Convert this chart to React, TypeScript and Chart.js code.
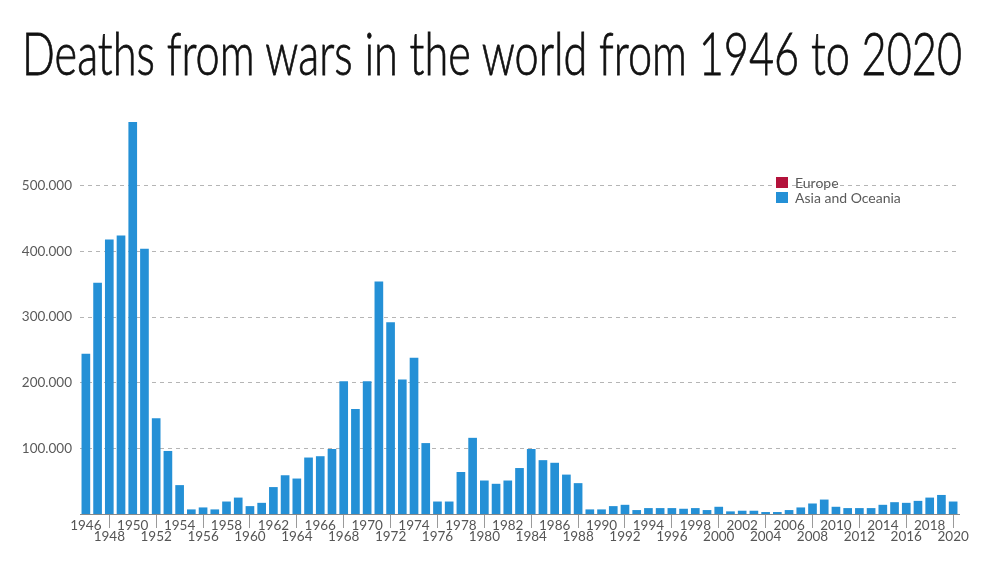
import { useEffect, useRef } from 'react';
import { Chart, registerables } from 'chart.js';

Chart.register(...registerables);

const TITLE = 'Deaths from wars in the world from 1946 to 2020';

const years = [
  1946, 1947, 1948, 1949, 1950, 1951, 1952, 1953, 1954, 1955,
  1956, 1957, 1958, 1959, 1960, 1961, 1962, 1963, 1964, 1965,
  1966, 1967, 1968, 1969, 1970, 1971, 1972, 1973, 1974, 1975,
  1976, 1977, 1978, 1979, 1980, 1981, 1982, 1983, 1984, 1985,
  1986, 1987, 1988, 1989, 1990, 1991, 1992, 1993, 1994, 1995,
  1996, 1997, 1998, 1999, 2000, 2001, 2002, 2003, 2004, 2005,
  2006, 2007, 2008, 2009, 2010, 2011, 2012, 2013, 2014, 2015,
  2016, 2017, 2018, 2019, 2020,
];

// deaths, Asia and Oceania (thousands)
const asiaOceania = [
  244, 352, 418, 424, 597, 404, 146, 96, 44, 7,
  10, 7, 19, 25, 12, 17, 41, 59, 54, 86,
  88, 99, 202, 160, 202, 354, 292, 205, 238, 108,
  19, 19, 64, 116, 51, 46, 51, 70, 99, 82,
  78, 60, 47, 7, 7, 12, 14, 6, 9, 9,
  9, 8, 9, 6, 11, 4, 5, 5, 3, 3,
  6, 10, 16, 22, 11, 9, 9, 9, 14, 18,
  17, 20, 25, 29, 19,
];

const legendItems = [
  { label: 'Europe', color: '#b3123b' },
  { label: 'Asia and Oceania', color: '#2490d6' },
];

const FONT = 'Lato, "Noto Sans", sans-serif';

function formatThousands(v: number) {
  return String(v).replace(/\B(?=(\d{3})+(?!\d))/g, '.');
}

export default function App() {
  const canvasRef = useRef<HTMLCanvasElement>(null);
  const chartRef = useRef<Chart | null>(null);

  useEffect(() => {
    if (!canvasRef.current) return;
    if (chartRef.current) chartRef.current.destroy();

    const ctx = canvasRef.current.getContext('2d')!;

    chartRef.current = new Chart(ctx, {
      type: 'bar',
      data: {
        labels: years.map(String),
        datasets: [
          {
            label: 'Asia and Oceania',
            data: asiaOceania.map(v => v * 1000),
            backgroundColor: legendItems[1].color,
            barPercentage: 0.74,
            categoryPercentage: 1,
          },
        ],
      },
      options: {
        animation: false,
        responsive: false,
        maintainAspectRatio: false,
        layout: { padding: { top: 120, right: 41, left: 0, bottom: 0 } },
        plugins: {
          legend: { display: false },
          tooltip: { enabled: false },
        },
        scales: {
          x: {
            afterFit: (scale: any) => {
              scale.height = 49;
            },
            grid: {
              offset: false,
              drawOnChartArea: false,
              tickLength: 14,
              color: (c: any) => (c.index % 4 === 2 ? '#9a9a9a' : 'rgba(0,0,0,0)'),
            },
            border: { display: true, color: '#8a8a8a', width: 1 },
            ticks: {
              autoSkip: false,
              maxRotation: 0,
              minRotation: 0,
              padding: -7,
              color: '#555',
              font: { family: FONT, size: 13.5, lineHeight: 0.76 },
              callback: (_v: any, i: number) => {
                if (i % 2 !== 0) return '';
                return i % 4 === 0 ? [String(years[i])] : ['', String(years[i])];
              },
            },
          },
          y: {
            min: 0,
            max: 600000,
            afterFit: (scale: any) => {
              scale.width = 80;
            },
            grid: {
              color: '#b5b5b5',
              lineWidth: 1,
              drawTicks: false,
            },
            border: { display: false, dash: [4, 4] },
            ticks: {
              stepSize: 100000,
              padding: 8,
              color: '#5a5a5a',
              font: { family: FONT, size: 13.5 },
              callback: (v: any) =>
                v === 0 || v === 600000 ? null : formatThousands(Number(v)),
            },
          },
        },
      },
    });

    return () => chartRef.current?.destroy();
  }, []);

  return (
    <div
      style={{
        position: 'fixed',
        left: 0,
        top: 0,
        width: 1000,
        height: 563,
        background: '#fff',
        overflow: 'hidden',
      }}
    >
      <svg width={1000} height={100} style={{ position: 'absolute', left: 0, top: 0 }}>
        <text
          x={22}
          y={75}
          textLength={940}
          lengthAdjust="spacingAndGlyphs"
          fontFamily={FONT}
          fontSize={59}
          fontWeight={300}
          fill="#111"
          stroke="#111"
          strokeWidth={0.8}
        >
          {TITLE}
        </text>
      </svg>
      <canvas
        ref={canvasRef}
        width={1000}
        height={563}
        style={{ position: 'absolute', left: 0, top: 0 }}
      />
      <div
        style={{
          position: 'absolute',
          left: 776,
          top: 175,
          fontFamily: FONT,
          fontSize: 14,
          color: '#5a5a5a',
          lineHeight: '14px',
        }}
      >
        {legendItems.map(item => (
          <div key={item.label} style={{ display: 'flex', alignItems: 'center', height: 15 }}>
            <span
              style={{
                width: 12,
                height: 11,
                background: item.color,
                marginRight: 7,
                display: 'inline-block',
              }}
            />
            {item.label}
          </div>
        ))}
      </div>
    </div>
  );
}
